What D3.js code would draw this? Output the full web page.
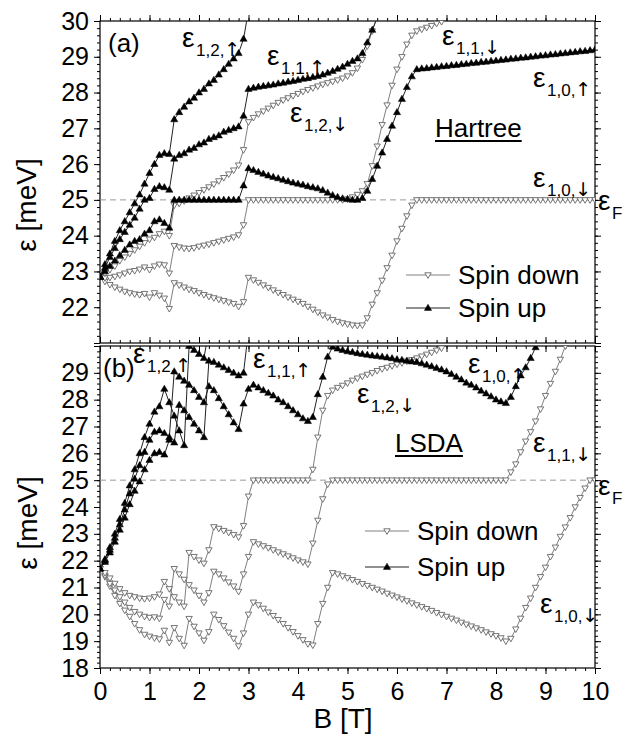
<!DOCTYPE html>
<html>
<head>
<meta charset="utf-8">
<script src="https://cdn.jsdelivr.net/npm/d3@7"></script>
<style>
  body { margin: 0; background: #fff; }
  text { font-family: "Liberation Sans", Arial, sans-serif; fill: #000; }
</style>
</head>
<body>
<svg id="chart"></svg>
<script>
// magnetic field grid [T]
const bField = [0, 0.1, 0.2, 0.3, 0.4, 0.5, 0.6, 0.7, 0.8, 0.9,
  1, 1.1, 1.2, 1.3, 1.4, 1.5, 1.6, 1.7, 1.8, 1.9,
  2, 2.1, 2.2, 2.3, 2.4, 2.5, 2.6, 2.7, 2.8, 2.9,
  3, 3.1, 3.2, 3.3, 3.4, 3.5, 3.6, 3.7, 3.8, 3.9,
  4, 4.1, 4.2, 4.3, 4.4, 4.5, 4.6, 4.7, 4.8, 4.9,
  5, 5.1, 5.2, 5.3, 5.4, 5.5, 5.6, 5.7, 5.8, 5.9,
  6, 6.1, 6.2, 6.3, 6.4, 6.5, 6.6, 6.7, 6.8, 6.9,
  7, 7.1, 7.2, 7.3, 7.4, 7.5, 7.6, 7.7, 7.8, 7.9,
  8, 8.1, 8.2, 8.3, 8.4, 8.5, 8.6, 8.7, 8.8, 8.9,
  9, 9.1, 9.2, 9.3, 9.4, 9.5, 9.6, 9.7, 9.8, 9.9, 10];

// (a) Hartree levels [meV], one value per bField entry from B = 0
const hartreeDown1 = [22.85, 22.72, 22.63, 22.56, 22.5, 22.44, 22.4, 22.37, 22.35, 22.38, 22.28, 22.4, 22.33, 22.25, 21.96,
  22.68, 22.62, 22.56, 22.5, 22.46, 22.4, 22.35, 22.3, 22.26, 22.22, 22.18, 22.14, 22.1, 22.02, 22.15,
  22.83, 22.76, 22.69, 22.62, 22.55, 22.48, 22.41, 22.35, 22.28, 22.22, 22.16, 22.1, 22.02, 21.94, 21.86, 21.78, 21.72, 21.65, 21.6, 21.56,
  21.53, 21.5, 21.49, 21.5, 21.7, 22.08, 22.4, 22.75, 23.1, 23.45, 23.85, 24.2, 24.55, 24.85, 25,
  25, 25, 25, 25, 25, 25, 25, 25, 25, 25, 25, 25, 25, 25, 25, 25, 25, 25,
  25, 25, 25, 25, 25, 25, 25, 25, 25, 25, 25, 25, 25, 25, 25, 25, 25, 25];
const hartreeDown2 = [22.85, 22.82, 22.83, 22.86, 22.9, 22.95, 23, 23.02, 23.06, 23.12, 23.05, 23.15, 23.2, 23.18, 22.95,
  23.72, 23.68, 23.65, 23.64, 23.66, 23.7, 23.73, 23.76, 23.8, 23.84, 23.88, 23.92, 23.96, 24.02, 24.3,
  25, 25, 25, 25, 25, 25, 25, 25, 25, 25, 25, 25, 25, 25, 25, 25, 25, 25, 25, 25,
  25.02, 25.08, 25.15, 25.25, 25.45, 25.95, 26.5, 27.1, 27.65, 28.2, 28.65, 29, 29.35, 29.6, 29.72, 29.77, 29.82, 29.87, 29.93, 29.98];
const hartreeDown3 = [22.85, 22.95, 23.05, 23.15, 23.3, 23.4, 23.5, 23.6, 23.7, 23.8, 23.9, 23.95, 24.05, 24.12, 24,
  24.85, 24.9, 24.97, 25.05, 25.13, 25.2, 25.28, 25.36, 25.44, 25.53, 25.62, 25.72, 25.83, 25.97, 26.4,
  27.18, 27.3, 27.4, 27.48, 27.56, 27.64, 27.72, 27.79, 27.85, 27.91, 27.97, 28.03, 28.08, 28.13, 28.18, 28.23, 28.27, 28.31, 28.35, 28.4,
  28.46, 28.55, 28.68, 28.92, 29.3, 29.72, 30.1];
const hartreeUp1 = [22.85, 23.2, 23.5, 23.85, 24.15, 24.4, 24.65, 24.9, 25.15, 25.45, 25.75, 26, 26.25, 26.3, 26.28,
  27.25, 27.45, 27.6, 27.75, 27.85, 28, 28.1, 28.25, 28.35, 28.5, 28.65, 28.8, 28.95, 29.1, 29.5, 30.3];
const hartreeUp2 = [22.85, 23.1, 23.4, 23.65, 23.9, 24.1, 24.3, 24.5, 24.75, 25, 25.05, 25.3, 25.38, 25.35, 25.28,
  26.15, 26.25, 26.3, 26.4, 26.45, 26.55, 26.6, 26.7, 26.75, 26.8, 26.9, 26.95, 27, 27.05, 27.35,
  28.1, 28.13, 28.16, 28.18, 28.2, 28.22, 28.25, 28.27, 28.3, 28.32, 28.35, 28.38, 28.4, 28.43, 28.46, 28.5, 28.55, 28.6, 28.66, 28.72,
  28.8, 28.88, 28.95, 29.1, 29.4, 29.75, 30.1];
const hartreeUp3 = [22.85, 23, 23.15, 23.3, 23.45, 23.6, 23.75, 23.85, 23.9, 24.05, 24.15, 24.4, 24.45, 24.35, 24.22,
  25, 25, 25, 25, 25, 25, 25, 25, 25, 25, 25, 25, 25, 25, 25.4,
  25.88, 25.83, 25.78, 25.73, 25.68, 25.64, 25.6, 25.56, 25.52, 25.48, 25.45, 25.42, 25.38, 25.35, 25.32, 25.27, 25.2, 25.13, 25.08, 25.04,
  25.02, 25, 25, 25.05, 25.25, 25.58, 25.95, 26.32, 26.7, 27.07, 27.45, 27.82, 28.15, 28.45, 28.65,
  28.67, 28.68, 28.7, 28.71, 28.73, 28.74, 28.76, 28.77, 28.79, 28.8,
  28.82, 28.83, 28.85, 28.86, 28.88, 28.89, 28.91, 28.92, 28.94, 28.95,
  28.97, 28.98, 29, 29.01, 29.03, 29.04, 29.06, 29.07, 29.09, 29.1,
  29.12, 29.13, 29.15, 29.16, 29.18, 29.2];

// (b) LSDA levels [meV]
const lsdaDown1 = [21.7, 21.4, 21.05, 20.7, 20.4, 20.15, 19.92, 19.65, 19.42, 19.25, 19.18, 19.12, 19.08, 19.4, 18.95,
  19.5, 19.1, 18.84, 19.84, 19.55, 19.3, 19.03, 19.35, 20, 19.8, 19.57, 19.33, 19.1, 18.82, 19.3,
  20, 20.45, 20.35, 20.22, 20.08, 19.95, 19.8, 19.65, 19.5, 19.35, 19.2, 19.05, 18.9, 18.85, 19.65, 20.4, 21, 21.55, 21.5, 21.43,
  21.36, 21.29, 21.22, 21.14, 21.07, 21, 20.93, 20.86, 20.78, 20.71, 20.64, 20.57, 20.5, 20.42, 20.35, 20.28, 20.21, 20.14, 20.06, 19.99,
  19.92, 19.85, 19.78, 19.7, 19.63, 19.56, 19.49, 19.42, 19.34, 19.27, 19.2, 19.12, 19.0, 19.1, 19.45, 19.85, 20.25, 20.6, 21, 21.4,
  21.75, 22.15, 22.5, 22.9, 23.25, 23.6, 24, 24.35, 24.7, 25, 25];
const lsdaDown2 = [21.7, 21.45, 21.15, 20.9, 20.65, 20.45, 20.25, 20.1, 20, 19.92, 19.88, 19.9, 19.85, 20.55, 20.3,
  21.7, 21.5, 21.3, 21.1, 20.9, 20.7, 20.45, 20.8, 21.6, 21.5, 21.35, 21.2, 21.05, 20.85, 21.5,
  22.15, 22.7, 22.62, 22.55, 22.48, 22.4, 22.32, 22.25, 22.17, 22.1, 22.02, 21.95, 21.87, 22.65, 23.5, 24.3, 24.85, 25, 25, 25,
  25, 25, 25, 25, 25, 25, 25, 25, 25, 25, 25, 25, 25, 25, 25, 25, 25,
  25, 25, 25, 25, 25, 25, 25, 25, 25, 25, 25, 25, 25, 25, 25, 25,
  25.3, 25.6, 26.05, 26.45, 26.8, 27.2, 27.65, 28.15, 28.6, 29.05, 29.5, 30];
const lsdaDown3 = [21.7, 21.55, 21.35, 21.15, 20.95, 20.8, 20.7, 20.65, 20.6, 20.58, 20.6, 20.65, 20.75, 21.22, 20.95,
  20.65, 20.45, 20.3, 22.3, 22.15, 22.02, 21.9, 22.4, 23.26, 23.2, 23.12, 23.05, 22.97, 22.88, 23.3,
  24.4, 25, 25, 25, 25, 25, 25, 25, 25, 25, 25, 25, 25, 25.4, 26.6, 27.6, 28.15, 28.35, 28.45, 28.53,
  28.62, 28.72, 28.8, 28.87, 28.94, 29, 29.08, 29.15, 29.2, 29.26, 29.32, 29.37, 29.43, 29.49, 29.55, 29.62, 29.69, 29.76, 29.84, 29.92];
const lsdaUp1 = [21.7, 22.05, 22.5, 23, 23.55, 24.15, 24.8, 25.4, 26, 26.6, 27.1, 27.55, 27.75, 28.4, 27.9,
  27.4, 26.85, 26.3, 30, 29.85, 29.7, 29.55, 30.6];
const lsdaUp2 = [21.7, 22, 22.4, 22.85, 23.35, 23.9, 24.5, 25.05, 25.55, 26.05, 26.5, 26.8, 26.85, 26.75, 26.6,
  29.05, 28.85, 28.7, 28.55, 28.35, 28.1, 27.9, 28.5, 28.35, 28.05, 27.75, 27.45, 27.15, 26.9, 27.85,
  28.4, 28.55, 28.45, 28.35, 28.25, 28.15, 28, 27.9, 27.75, 27.6, 27.45, 27.3, 27.2, 27.35, 28.2, 28.85, 29.6, 29.97, 29.9, 29.85,
  29.8, 29.77, 29.73, 29.7, 29.67, 29.64, 29.62, 29.6, 29.57, 29.54, 29.5, 29.48, 29.45, 29.42, 29.4, 29.35, 29.3, 29.24, 29.18, 29.12,
  29.05, 28.95, 28.85, 28.75, 28.63, 28.55, 28.45, 28.33, 28.23, 28.12, 28, 27.93, 27.87, 28.1, 28.5, 28.9, 29.2, 29.55, 29.95];
const lsdaUp3 = [21.7, 21.95, 22.3, 22.7, 23.15, 23.6, 24.1, 24.6, 24.95, 25.4, 25.75, 26, 26.05, 25.95, 26.5,
  26.4, 27.8, 27.6, 27.35, 27.1, 26.85, 26.6, 29.45, 29.4, 29.3, 29.2, 29.1, 29, 28.9, 29, 30.6];

const fermiLevel = 25;
const xTicks = [0, 1, 2, 3, 4, 5, 6, 7, 8, 9, 10];
const hartreeTicks = [21, 22, 23, 24, 25, 26, 27, 28, 29, 30];
const hartreeLabels = [22, 23, 24, 25, 26, 27, 28, 29, 30];
const lsdaTicks = [18, 19, 20, 21, 22, 23, 24, 25, 26, 27, 28, 29, 30];
const lsdaLabels = [18, 19, 20, 21, 22, 23, 24, 25, 26, 27, 28, 29];

var svg = d3.select("#chart").attr("width", 624).attr("height", 734);
var x = d3.scaleLinear().domain([0, 10]).range([100, 595]);
var minorX = d3.range(0, 10.001, 0.2);

var triUp = "M-3.6,2.4L3.6,2.4L0,-3.8Z";
var triDown = "M-3.2,-2.2L3.2,-2.2L0,3.4Z";

function styleAxis(g) {
  g.select(".domain").remove();
  g.selectAll("line").attr("stroke", "#000");
  g.selectAll("text").attr("font-family", "Liberation Sans, Arial, sans-serif")
    .attr("font-size", 25).attr("fill", "#000");
}

function drawPanel(p) {
  var y = d3.scaleLinear().domain(p.domain).range([p.bottom, p.top]);
  var minorY = d3.range(p.domain[0], p.domain[1] + 0.001, 0.2);
  var g = svg.append("g");

  g.append("clipPath").attr("id", "clip-" + p.name)
    .append("rect").attr("x", 100).attr("y", p.top)
    .attr("width", 495).attr("height", p.bottom - p.top);

  // left axis
  g.append("g").attr("transform", "translate(100,0)")
    .call(d3.axisLeft(y).tickValues(p.ticks).tickSize(6).tickPadding(5)
      .tickFormat(function(d) { return p.labels.indexOf(d) >= 0 ? d : ""; }))
    .call(styleAxis);
  g.append("g").attr("transform", "translate(100,0)")
    .call(d3.axisLeft(y).tickValues(minorY).tickSize(3).tickFormat(""))
    .call(styleAxis);
  // right axis
  g.append("g").attr("transform", "translate(595,0)")
    .call(d3.axisRight(y).tickValues(p.ticks).tickSize(6).tickFormat(""))
    .call(styleAxis);
  g.append("g").attr("transform", "translate(595,0)")
    .call(d3.axisRight(y).tickValues(minorY).tickSize(3).tickFormat(""))
    .call(styleAxis);
  // top axis (outward on the upper panel, inward on the lower one)
  var ts = p.name === "a" ? 1 : -1;
  g.append("g").attr("transform", "translate(0," + p.top + ")")
    .call(d3.axisTop(x).tickValues(xTicks).tickSize(6 * ts).tickFormat(""))
    .call(styleAxis);
  g.append("g").attr("transform", "translate(0," + p.top + ")")
    .call(d3.axisTop(x).tickValues(minorX).tickSize(3 * ts).tickFormat(""))
    .call(styleAxis);
  // bottom axis
  var bs = p.name === "a" ? -1 : 1;
  g.append("g").attr("transform", "translate(0," + p.bottom + ")")
    .call(d3.axisBottom(x).tickValues(xTicks).tickSize(6 * bs).tickPadding(8)
      .tickFormat(p.name === "a" ? "" : function(d) { return d; }))
    .call(styleAxis);
  g.append("g").attr("transform", "translate(0," + p.bottom + ")")
    .call(d3.axisBottom(x).tickValues(minorX).tickSize(3 * bs).tickFormat(""))
    .call(styleAxis);

  // frame
  g.append("rect").attr("x", 100).attr("y", p.top)
    .attr("width", 495).attr("height", p.bottom - p.top)
    .attr("fill", "none").attr("stroke", "#000").attr("stroke-width", 1.2);

  var plot = g.append("g").attr("clip-path", "url(#clip-" + p.name + ")");

  // Fermi level
  plot.append("line").attr("x1", x(0)).attr("x2", x(10))
    .attr("y1", y(fermiLevel)).attr("y2", y(fermiLevel))
    .attr("stroke", "#999").attr("stroke-width", 1).attr("stroke-dasharray", "6,4");

  var line = d3.line().x(function(d) { return x(d[0]); }).y(function(d) { return y(d[1]); });

  function series(vals, up) {
    var pts = vals.map(function(e, i) { return [bField[i], e]; });
    var s = plot.append("g");
    s.append("path").attr("d", line(pts)).attr("fill", "none")
      .attr("stroke", up ? "#222" : "#808080").attr("stroke-width", 1);
    s.selectAll("path.m").data(pts).enter().append("path")
      .attr("class", "m")
      .attr("transform", function(d) { return "translate(" + x(d[0]) + "," + y(d[1]) + ")"; })
      .attr("d", up ? triUp : triDown)
      .attr("fill", up ? "#000" : "#fff")
      .attr("stroke", up ? "#000" : "#666")
      .attr("stroke-width", up ? 0.5 : 0.9);
  }
  p.down.forEach(function(v) { series(v, false); });
  p.up.forEach(function(v) { series(v, true); });

  // legend
  var lg = g.append("g");
  [[p.legend[1], false, "Spin down"], [p.legend[2], true, "Spin up"]].forEach(function(it) {
    var ly = it[0], up = it[1];
    lg.append("line").attr("x1", p.legend[0]).attr("x2", p.legend[0] + 44)
      .attr("y1", ly).attr("y2", ly)
      .attr("stroke", up ? "#222" : "#808080").attr("stroke-width", 1);
    lg.append("path").attr("transform", "translate(" + (p.legend[0] + 22) + "," + ly + ")")
      .attr("d", up ? triUp : triDown)
      .attr("fill", up ? "#000" : "#fff").attr("stroke", up ? "#000" : "#666")
      .attr("stroke-width", up ? 0.5 : 0.9);
    lg.append("text").attr("x", p.legend[0] + 52).attr("y", ly + 9)
      .attr("font-size", 26).text(it[2]);
  });

  // panel letter
  g.append("text").attr("x", p.letter[0]).attr("y", p.letter[1])
    .attr("font-size", 26).text(p.name === "a" ? "(a)" : "(b)");

  // method name, underlined
  var mt = g.append("text").attr("x", p.method[0]).attr("y", p.method[1])
    .attr("font-size", 26).text(p.method[2]);
  var w = mt.node().getComputedTextLength();
  g.append("line").attr("x1", p.method[0]).attr("x2", p.method[0] + w)
    .attr("y1", p.method[1] + 4).attr("y2", p.method[1] + 4)
    .attr("stroke", "#000").attr("stroke-width", 2);

  // level labels: epsilon with subscript "n,m,spin"
  p.eps.forEach(function(l) {
    g.append("text").attr("x", l[0]).attr("y", l[1]).attr("font-size", 28).text("ε");
    var sub = g.append("text").attr("x", l[0] + 14).attr("y", l[1] + 9).attr("font-size", 17);
    sub.append("tspan").text(l[2]);
    if (l[3]) {
      sub.append("tspan").attr("font-family", "DejaVu Sans").attr("font-size", 19)
        .attr("fill", "#000").text(l[3]);
    }
  });

  // y title
  g.append("text").attr("transform", "translate(" + p.ytitle[0] + "," + p.ytitle[1] + ") rotate(-90)")
    .attr("text-anchor", "middle").attr("font-size", 28).text("ε [meV]");
}

drawPanel({
  name: "a", domain: [21, 30], top: 21, bottom: 343,
  ticks: hartreeTicks, labels: hartreeLabels,
  down: [hartreeDown1, hartreeDown2, hartreeDown3],
  up: [hartreeUp1, hartreeUp2, hartreeUp3],
  legend: [406, 275, 308],
  letter: [108, 52],
  method: [435, 137, "Hartree"],
  eps: [[182, 47, "1,2,", "↑"], [267, 65, "1,1,", "↑"], [290, 122, "1,2,", "↓"], [442, 45, "1,1,", "↓"],
        [533, 87, "1,0,", "↑"], [533, 187, "1,0,", "↓"], [598, 210, "F"]],
  ytitle: [36, 205]
});

drawPanel({
  name: "b", domain: [18, 30], top: 346, bottom: 668,
  ticks: lsdaTicks, labels: lsdaLabels,
  down: [lsdaDown1, lsdaDown2, lsdaDown3],
  up: [lsdaUp1, lsdaUp2, lsdaUp3],
  legend: [365, 531, 567],
  letter: [103, 377],
  method: [395, 452, "LSDA"],
  eps: [[133, 363, "1,2,", "↑"], [253, 368, "1,1,", "↑"], [357, 403, "1,2,", "↓"], [468, 373, "1,0,", "↑"],
        [533, 452, "1,1,", "↓"], [540, 613, "1,0,", "↓"], [598, 495, "F"]],
  ytitle: [37, 523]
});

svg.append("text").attr("x", 343).attr("y", 728).attr("text-anchor", "middle")
  .attr("font-size", 28).text("B [T]");
</script>
</body>
</html>
